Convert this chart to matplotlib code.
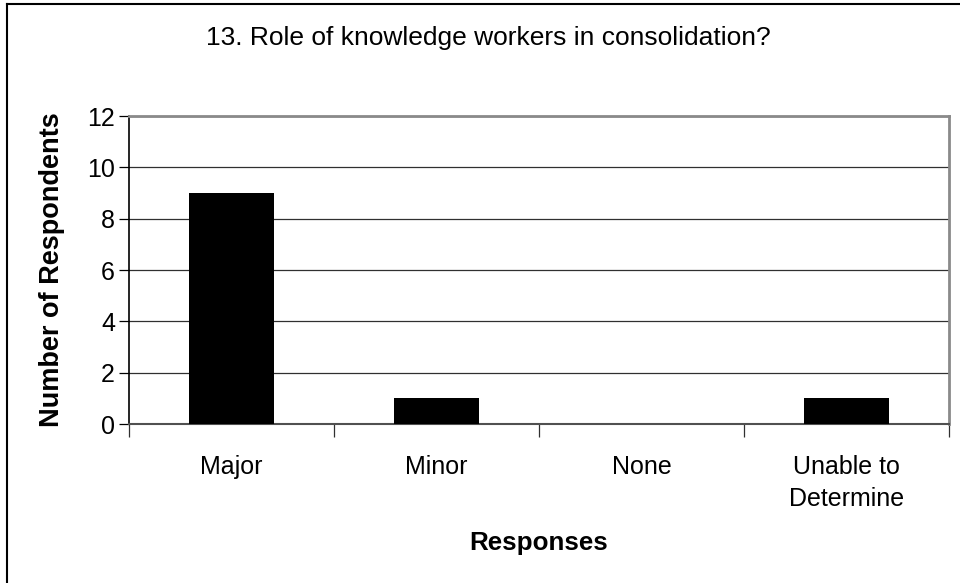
import matplotlib
matplotlib.use("Agg")
import matplotlib.pyplot as plt
from matplotlib.lines import Line2D
import numpy as np

plt.rcParams['font.family'] = ['Liberation Sans', 'DejaVu Sans']

categories = ['Major', 'Minor', 'None', 'Unable to\nDetermine']
counts = [9, 1, 0, 1]
y_ticks = [0, 2, 4, 6, 8, 10, 12]
title = '13. Role of knowledge workers in consolidation?'

fig = plt.figure(figsize=(9.6, 5.83), dpi=100)
ax = fig.add_axes([129 / 960, 1 - 424 / 583, 820 / 960, 308 / 583])

x = np.arange(len(categories)) + 0.5
ax.bar(x, counts, width=0.41, color='black', zorder=3)

ax.set_xlim(0, len(categories))
ax.set_ylim(0, 12)
ax.set_yticks(y_ticks)
ax.yaxis.grid(True, color='#303030', linewidth=0.9, zorder=1)

# category labels centred, tick marks on the boundaries
ax.set_xticks(x)
ax.set_xticklabels(categories, fontsize=18, linespacing=1.45)
ax.tick_params(axis='x', which='major', length=0, pad=22)
ax.set_xticks(np.arange(len(categories) + 1), minor=True)
ax.tick_params(axis='x', which='minor', length=9, width=0.9, color='#303030')
ax.tick_params(axis='y', labelsize=18, length=7, width=0.9, pad=3)

for side in ['top', 'right']:
    ax.spines[side].set_color('#8a8a8a')
    ax.spines[side].set_linewidth(2)
ax.spines['left'].set_color('black')
ax.spines['left'].set_linewidth(1.2)
ax.spines['bottom'].set_color('#505050')
ax.spines['bottom'].set_linewidth(1.5)

ax.set_xlabel('Responses', fontsize=18.7, fontweight='bold', labelpad=14)
ax.set_ylabel('Number of Respondents', fontsize=19.5, fontweight='bold', labelpad=16)

fig.text(488 / 960, 1 - 45 / 583, title, fontsize=19, ha='center', va='baseline')

# outer chart frame (left and top edges visible)
fig.add_artist(Line2D([7 / 960, 7 / 960], [0, 1 - 4 / 583], transform=fig.transFigure,
                      color='black', linewidth=1.5))
fig.add_artist(Line2D([7 / 960, 1], [1 - 4 / 583, 1 - 4 / 583], transform=fig.transFigure,
                      color='black', linewidth=1.5))

fig.savefig('out.png', dpi=100)
